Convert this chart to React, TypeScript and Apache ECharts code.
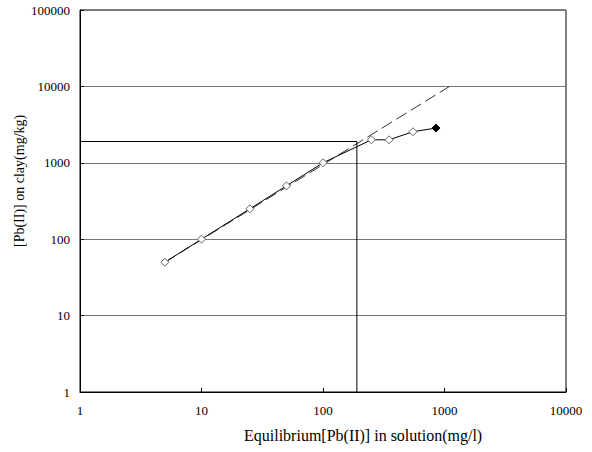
import React, { useEffect, useRef } from "react";
import * as echarts from "echarts";

const xValues = [5, 10, 25, 50, 100, 250, 350, 550, 850];
const yValues = [50, 100, 250, 500, 1000, 2000, 2000, 2550, 2850];
const trendX = [5, 1100];
const trendY = [50, 10000];
const refX = 190;
const refY = 1900;
const xTitle = "Equilibrium[Pb(II)] in solution(mg/l)";
const yTitle = "[Pb(II)] on clay(mg/kg)";

export default function App() {
  const ref = useRef<HTMLDivElement>(null);
  useEffect(() => {
    const chart = echarts.init(ref.current!, null, { renderer: "svg" });
    const font = "serif";
    const lastIdx = xValues.length - 1;
    chart.setOption({
      animation: false,
      backgroundColor: "#fff",
      textStyle: { fontFamily: font },
      grid: { left: 80, right: 26, top: 10, bottom: 60, show: true, borderColor: "#000", borderWidth: 1 },
      xAxis: {
        type: "log",
        logBase: 10,
        min: 1,
        max: 10000,
        axisLine: { onZero: false, lineStyle: { color: "#000", width: 1 } },
        axisTick: { inside: true, length: 4, lineStyle: { color: "#000" } },
        minorTick: { show: false },
        splitLine: { show: false },
        axisLabel: { color: "#000", fontFamily: font, fontSize: 13, margin: 12, formatter: (v: number) => String(Math.round(v)) },
      },
      yAxis: {
        type: "log",
        logBase: 10,
        min: 1,
        max: 100000,
        axisLine: { onZero: false, lineStyle: { color: "#000", width: 1 } },
        axisTick: { inside: true, length: 4, lineStyle: { color: "#000" } },
        splitLine: { show: true, lineStyle: { color: "#777", width: 1 } },
        axisLabel: { color: "#000", fontFamily: font, fontSize: 13, margin: 10, formatter: (v: number) => String(Math.round(v)) },
      },
      graphic: [
        {
          type: "text",
          left: 244,
          top: 427,
          style: { text: xTitle, fontFamily: font, fontSize: 16, fill: "#000" },
        },
        {
          type: "text",
          x: 12,
          y: 247,
          rotation: Math.PI / 2,
          style: { text: yTitle, fontFamily: font, fontSize: 14, fill: "#000" },
        },
      ],
      series: [
        {
          type: "line",
          data: trendX.map((x, i) => [x, trendY[i]]),
          symbol: "none",
          lineStyle: { color: "#333", width: 1, type: [12, 5] },
          z: 2,
        },
        {
          type: "line",
          data: [[refX, 1], [refX, refY], [1, refY]],
          symbol: "none",
          lineStyle: { color: "#000", width: 1 },
          z: 3,
        },
        {
          type: "line",
          data: xValues.map((x, i) =>
            i === lastIdx
              ? { value: [x, yValues[i]], itemStyle: { color: "#000", borderColor: "#000" } }
              : [x, yValues[i]]
          ),
          symbol: "diamond",
          symbolSize: 8,
          showAllSymbol: true,
          itemStyle: { color: "#fff", borderColor: "#666", borderWidth: 1 },
          lineStyle: { color: "#000", width: 1 },
          z: 4,
        },
      ],
    });
    return () => chart.dispose();
  }, []);
  return <div ref={ref} style={{ position: "absolute", left: 0, top: 0, width: 592, height: 452 }} />;
}
